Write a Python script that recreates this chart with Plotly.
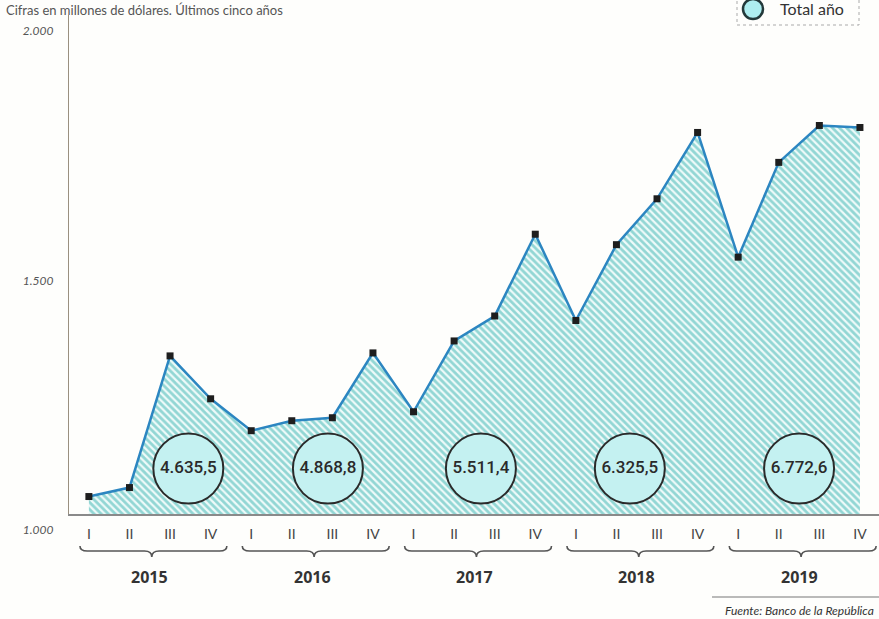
import plotly.graph_objects as go

# ---- data ----
years = ["2015", "2016", "2017", "2018", "2019"]
quarter_labels = ["I", "II", "III", "IV"]
quarterly_values = [
    1035, 1053, 1317, 1231,   # 2015
    1167, 1187, 1193, 1323,   # 2016
    1205, 1347, 1397, 1561,   # 2017
    1388, 1540, 1632, 1765,   # 2018
    1515, 1705, 1779, 1775,   # 2019
]
annual_totals = [4635.5, 4868.8, 5511.4, 6325.5, 6772.6]
y_ticks = [1000, 1500, 2000]

# ---- layout helpers ----
W, H = 879, 619
ML, MR, MT, MB = 69, 0, 15, 105
PW, PH = W - ML - MR, H - MT - MB


def px_x(p):
    return (p - ML) / PW


def px_y(p):
    return (H - MB - p) / PH


n = len(quarterly_values)
x_idx = list(range(n))
tick_text = [quarter_labels[i % 4] for i in x_idx]
year_centers = [4 * k + 1.5 for k in range(len(years))]
circle_dx = [0.95, 0.39, 0.16, -0.17, 0.0]
circle_y = 1091


def fmt_es(v):
    s = f"{v:,.1f}"
    return s.replace(",", "X").replace(".", ",").replace("X", ".")


fig = go.Figure()

fig.add_trace(go.Scatter(
    x=x_idx, y=quarterly_values, mode="lines+markers",
    line=dict(color="#2c86c1", width=2.5),
    marker=dict(symbol="square", size=7, color="#1e1e1e"),
    fill="tozeroy",
    fillpattern=dict(shape="\\", fgcolor="#36b2af", bgcolor="#eefaf9",
                     size=5, solidity=0.55),
    fillcolor="rgba(0,0,0,0)",
    showlegend=False, hoverinfo="skip",
))

fig.add_trace(go.Scatter(
    x=[c + d for c, d in zip(year_centers, circle_dx)],
    y=[circle_y] * len(annual_totals),
    mode="markers+text",
    marker=dict(symbol="circle", size=70, color="#c4f1f1",
                line=dict(color="#2a2a2a", width=2)),
    text=[fmt_es(v) for v in annual_totals],
    textposition="middle center",
    textfont=dict(family="Roboto", size=17, color="#2a2a2a", weight=500),
    showlegend=False, hoverinfo="skip", cliponaxis=False,
))

shapes = []
annotations = []

# braces under each year
ytop, ymid, ybot = px_y(546), px_y(551), px_y(557)
d = 0.18
for k in range(len(years)):
    x0 = 4 * k - 0.22
    x1 = 4 * k + 3.4
    xc = year_centers[k] + 0.05
    path = (f"M {x0},{ytop} Q {x0},{ymid} {x0 + d},{ymid} "
            f"L {xc - d},{ymid} Q {xc},{ymid} {xc},{ybot} "
            f"Q {xc},{ymid} {xc + d},{ymid} "
            f"L {x1 - d},{ymid} Q {x1},{ymid} {x1},{ytop}")
    shapes.append(dict(type="path", path=path, xref="x", yref="paper",
                       line=dict(color="#555555", width=1.6)))
    annotations.append(dict(x=year_centers[k], y=px_y(577), xref="x", yref="paper",
                            text=f"<b>{years[k]}</b>", showarrow=False,
                            font=dict(family="Open Sans, Lato", size=16, color="#333333"),
                            xanchor="center", yanchor="middle"))

# legend box
shapes.append(dict(type="rect", xref="paper", yref="paper",
                   x0=px_x(737), x1=px_x(859), y0=px_y(25), y1=px_y(-3),
                   line=dict(color="#aaaaaa", width=1, dash="dot"),
                   fillcolor="rgba(255,255,255,0)"))
shapes.append(dict(type="circle", xref="paper", yref="paper",
                   x0=px_x(743), x1=px_x(763), y0=px_y(19), y1=px_y(-1),
                   line=dict(color="#23393a", width=2.5), fillcolor="#aeeef0"))
annotations.append(dict(x=px_x(778), y=px_y(9), xref="paper", yref="paper",
                        text="Total año", showarrow=False, xanchor="left", yanchor="middle",
                        font=dict(family="Lato", size=16, color="#333333")))

# top subtitle
annotations.append(dict(x=px_x(4), y=px_y(0), xref="paper", yref="paper",
                        text="Cifras en millones de dólares. Últimos cinco años",
                        showarrow=False, xanchor="left", yanchor="top",
                        font=dict(family="Lato", size=13, color="#555555")))

# source
shapes.append(dict(type="line", xref="paper", yref="paper",
                   x0=px_x(712), x1=px_x(879), y0=px_y(597), y1=px_y(597),
                   line=dict(color="#777777", width=1)))
annotations.append(dict(x=px_x(876), y=px_y(610), xref="paper", yref="paper",
                        text="<i>Fuente: Banco de la República</i>", showarrow=False,
                        xanchor="right", yanchor="middle",
                        font=dict(family="Lato", size=12, color="#333333")))

fig.update_layout(
    width=W, height=H,
    margin=dict(l=ML, r=MR, t=MT, b=MB, autoexpand=False),
    paper_bgcolor="#fefefc", plot_bgcolor="#fefefc",
    separators=",.",
    shapes=shapes, annotations=annotations,
    xaxis=dict(range=[-0.49, 19.47], tickvals=x_idx, ticktext=tick_text,
               showgrid=False, zeroline=False, showline=True, automargin=False,
               linecolor="#8a8a8a", linewidth=1.5, ticks="",
               ticklabelstandoff=6,
               tickfont=dict(family="Lato", size=14, color="#444444")),
    yaxis=dict(range=[1000, 2000.5], tickvals=y_ticks, tickformat=",.0f",
               showgrid=False, zeroline=False, showline=True, automargin=False,
               linecolor="#9a9080", linewidth=1.2, ticks="",
               ticklabelstandoff=12, ticklabelshift=16,
               tickfont=dict(family="Lato", size=12, color="#555555", style="italic")),
)

fig.write_html(
    "out.html",
    config={"displayModeBar": False},
    post_script="document.body.style.margin='0';document.body.style.padding='0';"
                "document.body.style.overflow='hidden';",
)
